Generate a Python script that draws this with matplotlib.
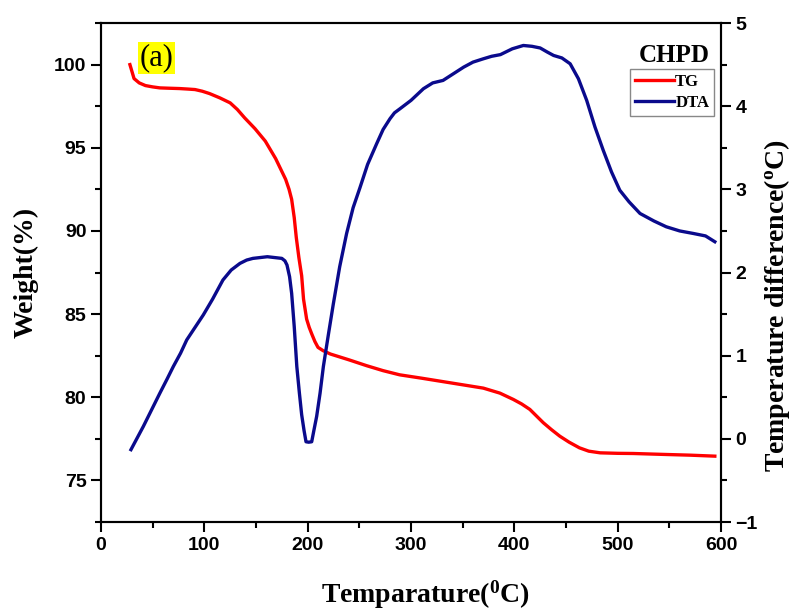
import numpy as np
import matplotlib
matplotlib.use('Agg')
import matplotlib.pyplot as plt
from matplotlib.ticker import MultipleLocator

plt.rcParams['mathtext.fontset'] = 'custom'
plt.rcParams['mathtext.rm'] = 'Liberation Serif:bold'
plt.rcParams['mathtext.it'] = 'Liberation Serif:bold'
plt.rcParams['mathtext.bf'] = 'Liberation Serif:bold'

# TG curve (weight %)
tg_temp = [28, 32, 37, 43, 50, 57, 66, 76, 84, 91, 98, 105, 115, 125, 132, 139, 149, 159, 169, 178.7,
           182, 184.5, 187, 189, 191.5, 194.2, 196, 199, 201.5, 204, 207, 210, 215, 222, 240, 257,
           273, 289, 310, 330, 350, 370, 386, 399, 407, 415, 421, 428, 436, 444, 453, 463, 472, 483,
           500, 515, 547, 570, 594]
tg_weight = [100.0, 99.16, 98.9, 98.74, 98.66, 98.6, 98.58, 98.56, 98.53, 98.5, 98.4, 98.26, 98.0, 97.7,
             97.3, 96.8, 96.15, 95.4, 94.35, 93.1,
             92.5, 91.9, 90.8, 89.6, 88.4, 87.3, 85.9, 84.7, 84.2, 83.8, 83.35, 83.0, 82.8, 82.6, 82.25,
             81.9, 81.6, 81.35, 81.15, 80.95, 80.75, 80.55, 80.25, 79.87, 79.6, 79.27, 78.9, 78.47,
             78.05, 77.66, 77.3, 76.96, 76.76, 76.66, 76.63, 76.62, 76.56, 76.52, 76.46]

# DTA curve (temperature difference, C)
dta_temp = [29, 35, 41, 49, 57, 64, 70, 77, 83, 91, 99, 108, 118, 126, 134.5, 141, 147, 154, 161, 168,
            175, 178, 180, 182.5, 184.5, 187, 189.5, 192, 194.2, 196.5, 198.4, 201, 203.9, 206,
            208.7, 212, 215.2, 220, 224.8, 231, 237.7, 244, 250.6, 258, 266.8, 273, 279.7, 284,
            289.4, 300, 312, 321, 331, 341, 351, 360, 370, 378, 386.5, 398, 408.7, 417, 425, 432,
            438, 446, 454, 462, 470, 478, 486, 494, 502, 511, 521.6, 535, 547, 560, 573, 585, 594]
dta_diff = [-0.13, 0.01, 0.15, 0.35, 0.55, 0.72, 0.87, 1.03, 1.19, 1.34, 1.49, 1.68, 1.91, 2.03, 2.11,
            2.15, 2.17, 2.18, 2.19, 2.18, 2.17, 2.14, 2.09, 1.95, 1.75, 1.35, 0.87, 0.55, 0.29, 0.1,
            -0.035, -0.04, -0.035, 0.1, 0.27, 0.55, 0.87, 1.25, 1.62, 2.07, 2.47, 2.78, 3.02, 3.3,
            3.55, 3.72, 3.85, 3.92, 3.97, 4.07, 4.21, 4.28, 4.31, 4.39, 4.47, 4.53, 4.57, 4.6, 4.62,
            4.69, 4.73, 4.72, 4.70, 4.65, 4.61, 4.58, 4.51, 4.33, 4.07, 3.75, 3.47, 3.21, 2.99, 2.85,
            2.71, 2.62, 2.55, 2.5, 2.47, 2.44, 2.37]

fig = plt.figure(figsize=(7.92, 6.14), dpi=100)
ax = fig.add_axes([0.1275, 0.1498, 0.7829, 0.8127])
ax2 = ax.twinx()

l1, = ax.plot(tg_temp, tg_weight, color='#ff0000', lw=2.4, label='TG')
l2, = ax2.plot(dta_temp, dta_diff, color='#0a0a8c', lw=2.4, label='DTA')

ax.set_xlim(0, 600)
ax.set_ylim(72.5, 102.5)
ax2.set_ylim(-1, 5)

ax.xaxis.set_major_locator(MultipleLocator(100))
ax.xaxis.set_minor_locator(MultipleLocator(50))
ax.yaxis.set_major_locator(MultipleLocator(5))
ax.yaxis.set_minor_locator(MultipleLocator(2.5))
ax2.yaxis.set_major_locator(MultipleLocator(1))
ax2.yaxis.set_minor_locator(MultipleLocator(0.5))

for a in (ax, ax2):
    for s in a.spines.values():
        s.set_linewidth(1.5)
    a.tick_params(which='major', direction='out', length=7, width=1.5, labelsize=14)
    a.tick_params(which='minor', direction='out', length=4, width=1.5)
ax.tick_params(axis='x', which='both', top=False)
ax.tick_params(axis='y', which='both', right=False)

for lab in ax.get_xticklabels() + ax.get_yticklabels() + ax2.get_yticklabels():
    lab.set_fontfamily('Liberation Sans')
    lab.set_fontweight('bold')

serif = 'Liberation Serif'
ax.set_xlabel(r'Temparature($^{0}$C)', fontsize=20, fontweight='bold', family=serif)
ax.set_ylabel('Weight(%)', fontsize=20, fontweight='bold', family=serif)
ax2.set_ylabel(r'Temperature difference($^{o}$C)', fontsize=20, fontweight='bold', family=serif)
ax.xaxis.set_label_coords(0.523, -0.114)
ax.yaxis.set_label_coords(-0.1, 0.5)
ax2.yaxis.set_label_coords(1.066, 0.433)

ax.text(0.09, 0.93, '(a)', transform=ax.transAxes, fontsize=22, family=serif,
        ha='center', va='center', bbox=dict(facecolor='#ffff00', edgecolor='none', pad=1))
ax.text(0.924, 0.922, 'CHPD', transform=ax.transAxes, fontsize=18, fontweight='bold',
        family=serif, ha='center', va='baseline')

leg = ax.legend(handles=[l1, l2], loc='upper right', bbox_to_anchor=(0.989, 0.908),
                borderaxespad=0, prop={'family': serif, 'weight': 'bold', 'size': 12},
                fancybox=False, handlelength=2.3, handletextpad=0.1, borderpad=0.3,
                labelspacing=0.3, framealpha=1)
leg.get_frame().set_edgecolor('#888888')
leg.get_frame().set_linewidth(1.0)

fig.savefig('out.png', dpi=100)
